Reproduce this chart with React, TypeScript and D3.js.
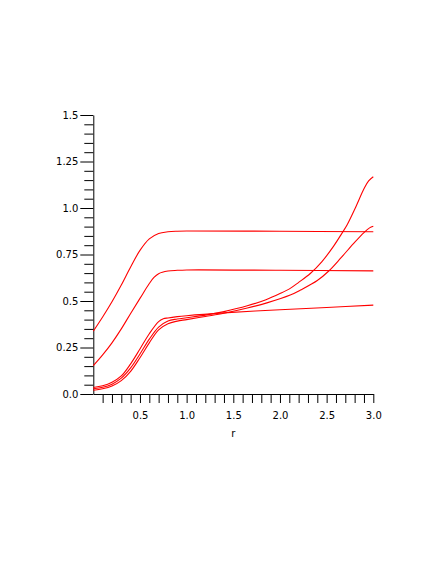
import React, { useEffect, useRef } from 'react';
import * as d3 from 'd3';

// curves, as [r, value] pairs
const upperCurve: [number, number][] = [
  [0, 0.338], [0.1, 0.414], [0.2, 0.496], [0.3, 0.586], [0.4, 0.683], [0.5, 0.772],
  [0.6, 0.834], [0.7, 0.863], [0.8, 0.872], [0.9, 0.875], [1.0, 0.876], [2.0, 0.875], [3.0, 0.872],
];

const middleCurve: [number, number][] = [
  [0, 0.152], [0.1, 0.21], [0.2, 0.275], [0.3, 0.35], [0.4, 0.433], [0.5, 0.514],
  [0.6, 0.594], [0.65, 0.627], [0.7, 0.647], [0.8, 0.661], [0.9, 0.665], [1.0, 0.667],
  [2.0, 0.665], [3.0, 0.662],
];

const flatLowCurve: [number, number][] = [
  [0, 0.035], [0.1, 0.044], [0.2, 0.063], [0.3, 0.097], [0.4, 0.162], [0.5, 0.242],
  [0.6, 0.324], [0.7, 0.389], [0.75, 0.404], [0.8, 0.409], [0.9, 0.416], [1.0, 0.421],
  [1.4, 0.436], [2.0, 0.453], [2.5, 0.465], [3.0, 0.478],
];

const steepCurve: [number, number][] = [
  [0, 0.028], [0.1, 0.036], [0.2, 0.053], [0.3, 0.085], [0.4, 0.14], [0.5, 0.215],
  [0.6, 0.295], [0.7, 0.36], [0.8, 0.393], [0.9, 0.403], [1.0, 0.41], [1.2, 0.424],
  [1.4, 0.443], [1.65, 0.474], [1.85, 0.507], [2.0, 0.54], [2.11, 0.568], [2.2, 0.6],
  [2.325, 0.648], [2.45, 0.712], [2.575, 0.795], [2.665, 0.865], [2.72, 0.91], [2.81, 1.003],
  [2.9, 1.103], [2.95, 1.146], [3.0, 1.168],
];

const bendCurve: [number, number][] = [
  [0, 0.02], [0.1, 0.028], [0.2, 0.043], [0.3, 0.072], [0.4, 0.122], [0.5, 0.195],
  [0.6, 0.275], [0.7, 0.345], [0.8, 0.378], [0.9, 0.392], [1.0, 0.4], [1.2, 0.417],
  [1.4, 0.434], [1.65, 0.462], [1.86, 0.49], [2.11, 0.532], [2.22, 0.559], [2.4, 0.61],
  [2.52, 0.66], [2.65, 0.73], [2.79, 0.81], [2.9, 0.868], [2.96, 0.893], [3.0, 0.902],
];

const curves = [upperCurve, middleCurve, flatLowCurve, steepCurve, bendCurve];

const xTickValues = d3.range(1, 31).map(i => i / 10);
const xLabelValues = [0.5, 1.0, 1.5, 2.0, 2.5, 3.0];
const yTickValues = d3.range(0, 31).map(i => i * 0.05);
const yLabelValues = [0, 0.25, 0.5, 0.75, 1.0, 1.25, 1.5];
const yLabelText = ['0.0', '0.25', '0.5', '0.75', '1.0', '1.25', '1.5'];

const App = () => {
  const svgRef = useRef<SVGSVGElement>(null);

  useEffect(() => {
    const svg = d3.select(svgRef.current);
    svg.selectAll('*').remove();

    const font = '"DejaVu Sans", sans-serif';

    const x = d3.scaleLinear().domain([0, 3]).range([93.3, 373.3]);
    const y = d3.scaleLinear().domain([0, 1.5]).range([394, 115]);

    const isLabel = (v: number, list: number[]) => list.some(l => Math.abs(l - v) < 1e-6);

    // x axis, ticks every 0.1, labels every 0.5
    const gx = svg
      .append('g')
      .attr('transform', `translate(0,${y(0)})`)
      .call(
        d3
          .axisBottom(x)
          .tickValues(xTickValues)
          .tickSize(9)
          .tickSizeOuter(0)
          .tickPadding(9)
          .tickFormat(d => (isLabel(+d, xLabelValues) ? (+d).toFixed(1) : ''))
      );

    // y axis, ticks every 0.05, longer ones where labelled
    const gy = svg
      .append('g')
      .attr('transform', `translate(${x(0)},0)`)
      .call(
        d3
          .axisLeft(y)
          .tickValues(yTickValues)
          .tickSize(9)
          .tickSizeOuter(0)
          .tickFormat(d => {
            const i = yLabelValues.findIndex(l => Math.abs(l - +d) < 1e-6);
            return i >= 0 ? yLabelText[i] : '';
          })
      );
    gy.selectAll<SVGGElement, number>('.tick')
      .filter(d => isLabel(d, yLabelValues))
      .select('line')
      .attr('x2', -13);
    gy.selectAll('.tick text').attr('x', -15);

    [gx, gy].forEach(g => {
      g.selectAll('line').attr('stroke', '#000').attr('stroke-width', 1);
      g.select('.domain').attr('stroke', '#000').attr('stroke-width', 1);
      g.selectAll('text').attr('fill', '#000').style('font-family', font).style('font-size', '10px');
    });

    svg
      .append('text')
      .attr('x', x(1.5))
      .attr('y', 437)
      .attr('text-anchor', 'middle')
      .style('font-family', font)
      .style('font-size', '10px')
      .text('r');

    const line = d3
      .line<[number, number]>()
      .x(d => x(d[0]))
      .y(d => y(d[1]))
      .curve(d3.curveCatmullRom.alpha(0.5));

    svg
      .append('g')
      .attr('fill', 'none')
      .attr('stroke', '#ff0000')
      .attr('stroke-width', 1.1)
      .selectAll('path')
      .data(curves)
      .join('path')
      .attr('d', d => line(d));
  }, []);

  return (
    <svg
      ref={svgRef}
      width={436}
      height={564}
      style={{ position: 'absolute', left: 0, top: 0, background: '#fff' }}
    ></svg>
  );
};

export default App;
